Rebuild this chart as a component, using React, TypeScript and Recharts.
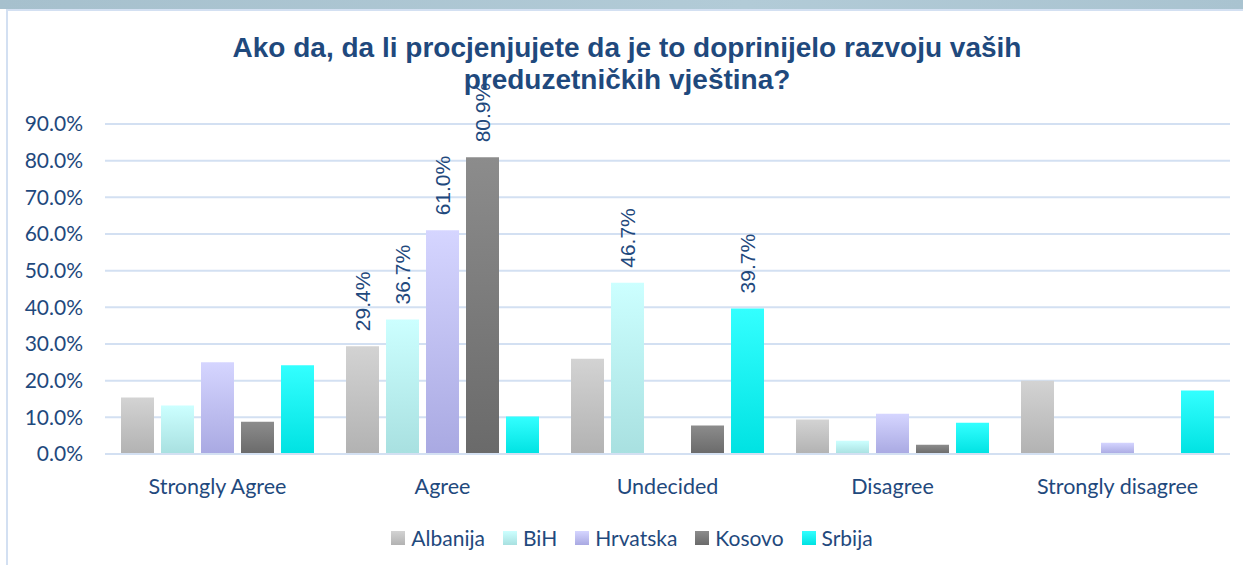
import React from "react";
import {
  BarChart,
  Bar,
  XAxis,
  YAxis,
  CartesianGrid,
  Legend,
  LabelList,
} from "recharts";

const categories = [
  "Strongly Agree",
  "Agree",
  "Undecided",
  "Disagree",
  "Strongly disagree",
];

const albanija = [15.4, 29.4, 26.0, 9.4, 20.0];
const bih = [13.2, 36.7, 46.7, 3.6, 0];
const hrvatska = [25.0, 61.0, 0, 11.0, 3.1];
const kosovo = [8.8, 80.9, 7.8, 2.5, 0];
const srbija = [24.2, 10.2, 39.7, 8.5, 17.3];

const yTicks = [0, 10, 20, 30, 40, 50, 60, 70, 80, 90];

// only the bigger bars carry a data label in the original
const LABEL_MIN = 29;

const TEXT = "#1F497D";
const GRID = "#D3E0F2";

const series = [
  { key: "Albanija", top: "#D3D3D3", bottom: "#B2B2B2" },
  { key: "BiH", top: "#CCFFFF", bottom: "#A8E0E0" },
  { key: "Hrvatska", top: "#D5D5FF", bottom: "#A9A9E2" },
  { key: "Kosovo", top: "#8C8C8C", bottom: "#6A6A6A" },
  { key: "Srbija", top: "#33FFFF", bottom: "#00E2E2" },
];

const data = categories.map((name, i) => ({
  name,
  Albanija: albanija[i],
  BiH: bih[i],
  Hrvatska: hrvatska[i],
  Kosovo: kosovo[i],
  Srbija: srbija[i],
}));

const pct = (v: number) => `${v.toFixed(1)}%`;

function RotatedLabel(props: any) {
  const { x, y, width, value } = props;
  if (value == null || value < LABEL_MIN) return null;
  const cx = x + width / 2;
  const cy = y - 15;
  return (
    <text
      x={cx}
      y={cy}
      transform={`rotate(-90 ${cx} ${cy})`}
      textAnchor="start"
      dominantBaseline="central"
      fill={TEXT}
      fontSize={21}
      fontFamily="'Liberation Sans', Arial, sans-serif"
    >
      {pct(value)}
    </text>
  );
}

function LegendContent() {
  return (
    <div
      style={{
        display: "flex",
        justifyContent: "center",
        alignItems: "center",
        fontFamily: "Lato, sans-serif",
        fontSize: 21,
        color: TEXT,
      }}
    >
      {series.map((s) => (
        <div
          key={s.key}
          style={{ display: "flex", alignItems: "center", margin: "0 9px" }}
        >
          <span
            style={{
              display: "inline-block",
              width: 14,
              height: 14,
              marginRight: 6,
              background: `linear-gradient(${s.top}, ${s.bottom})`,
            }}
          />
          <span>{s.key}</span>
        </div>
      ))}
    </div>
  );
}

export default function App() {
  return (
    <div
      style={{
        position: "absolute",
        left: 0,
        top: 0,
        width: 1243,
        height: 565,
        background: "#fff",
        overflow: "hidden",
      }}
    >
      <div
        style={{
          position: "absolute",
          left: 0,
          top: 0,
          width: 1243,
          height: 9,
          background: "linear-gradient(90deg, #A6C0CD, #B2CBD7 60%, #A9C3D0)",
        }}
      />
      <div
        style={{
          position: "absolute",
          left: 6,
          top: 9,
          right: 0,
          bottom: 0,
          borderLeft: `2px solid ${GRID}`,
          borderTop: `2px solid ${GRID}`,
        }}
      />
      <div
        style={{
          position: "absolute",
          left: 7,
          top: 32,
          width: 1240,
          textAlign: "center",
          fontFamily: "'Liberation Sans', Arial, sans-serif",
          fontWeight: "bold",
          fontSize: 28,
          lineHeight: "32px",
          color: TEXT,
        }}
      >
        Ako da, da li procjenjujete da je to doprinijelo razvoju vaših
        <br />
        preduzetničkih vještina?
      </div>
      <div style={{ position: "absolute", left: 0, top: 0 }}>
        <BarChart
          width={1243}
          height={565}
          data={data}
          margin={{ top: 124, right: 13, bottom: 81, left: 0 }}
          barCategoryGap={16}
          barGap={7}
        >
          <defs>
            {series.map((s) => (
              <linearGradient
                key={s.key}
                id={`grad-${s.key}`}
                x1="0"
                y1="0"
                x2="0"
                y2="1"
              >
                <stop offset="0%" stopColor={s.top} />
                <stop offset="100%" stopColor={s.bottom} />
              </linearGradient>
            ))}
          </defs>
          <CartesianGrid vertical={false} stroke={GRID} strokeWidth={2} />
          <XAxis
            dataKey="name"
            height={30}
            axisLine={{ stroke: GRID, strokeWidth: 2 }}
            tickLine={false}
            tickSize={0}
            tickMargin={25}
            tick={{ fill: TEXT, fontSize: 21.5, fontFamily: "Lato, sans-serif" }}
          />
          <YAxis
            width={105}
            domain={[0, 90]}
            ticks={yTicks}
            interval={0}
            axisLine={false}
            tickLine={false}
            tickSize={0}
            tickMargin={22}
            tickFormatter={pct}
            tick={{ fill: TEXT, fontSize: 21, fontFamily: "Lato, sans-serif" }}
          />
          <Legend
            verticalAlign="middle"
            align="center"
            content={<LegendContent />}
            wrapperStyle={{ top: 525, left: 7, width: 1250 }}
          />
          {series.map((s) => (
            <Bar
              key={s.key}
              dataKey={s.key}
              fill={`url(#grad-${s.key})`}
              isAnimationActive={false}
            >
              <LabelList dataKey={s.key} content={<RotatedLabel />} />
            </Bar>
          ))}
        </BarChart>
      </div>
    </div>
  );
}
